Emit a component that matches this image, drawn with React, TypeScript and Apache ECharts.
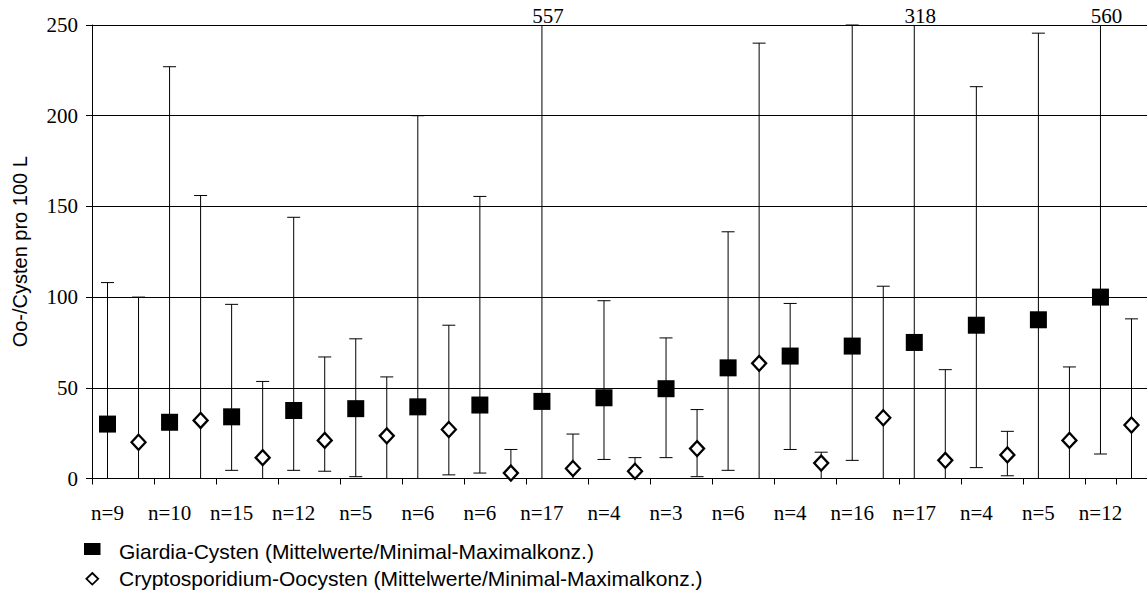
import React, { useEffect, useRef } from "react";
import * as echarts from "echarts";

const groups = ["n=9", "n=10", "n=15", "n=12", "n=5", "n=6", "n=6", "n=17", "n=4", "n=3", "n=6", "n=4", "n=16", "n=17", "n=4", "n=5", "n=12"];

const giardiaMean = [30, 31, 34, 37.5, 38.5, 39.5, 40.5, 42.5, 44.5, 49.5, 61, 67.5, 73, 75, 84.5, 87.5, 100];
const giardiaMin = [0, 0, 4.5, 4.5, 1, 0, 3, 0, 10.5, 11.5, 4.5, 16, 10, 0, 6, 0, 13.5];
const giardiaMax = [108, 227, 96, 144, 77, 200, 155.5, 557, 98, 77.5, 136, 96.5, 250, 318, 216, 245.5, 560];

const cryptoMean = [20, 32, 11.5, 21, 23.5, 27, 3, 5.5, 4, 16.5, 63.5, 8.5, 33.5, 10, 13, 21, 29.5];
const cryptoMin = [0, 0, 0, 4, 0, 2, 0, 0, 0, 1, 0, 0, 0, 0, 1.5, 0, 0];
const cryptoMax = [100, 156, 53.5, 67, 56, 84.5, 16, 24.5, 11.5, 38, 240, 14.5, 106, 60, 26, 61.5, 88];

const yTicks = { min: 0, max: 250, interval: 50 };
const yTitle = "Oo-/Cysten pro 100 L";
const legendLabels = [
  "Giardia-Cysten (Mittelwerte/Minimal-Maximalkonz.)",
  "Cryptosporidium-Oocysten (Mittelwerte/Minimal-Maximalkonz.)",
];

const SERIF = '"Liberation Serif", "Times New Roman", serif';
const SANS = '"Liberation Sans", Arial, sans-serif';
const CAP = 6.5;

export default function App() {
  const ref = useRef<HTMLDivElement>(null);
  useEffect(() => {
    if (!ref.current) return;
    const chart = echarts.init(ref.current, undefined, { renderer: "svg" });

    const slots: string[] = groups.flatMap((g) => [g, ""]);
    const gBars = groups.map((_, i) => [2 * i, giardiaMin[i], giardiaMax[i]]);
    const cBars = groups.map((_, i) => [2 * i + 1, cryptoMin[i], cryptoMax[i]]);
    const gPts = groups.map((_, i) => [2 * i, giardiaMean[i]]);
    const cPts = groups.map((_, i) => [2 * i + 1, cryptoMean[i]]);

    const renderBar = (params: any, api: any) => {
      const idx = api.value(0);
      const lo = api.value(1);
      const hi = api.value(2);
      const shownHi = Math.min(hi, yTicks.max);
      const top = api.coord([idx, shownHi]);
      const bot = api.coord([idx, lo]);
      const x = top[0];
      const style = { stroke: "#000", lineWidth: 1 };
      const children: any[] = [
        { type: "line", shape: { x1: x, y1: top[1], x2: x, y2: bot[1] }, style },
        { type: "line", shape: { x1: x - CAP, y1: bot[1], x2: x + CAP, y2: bot[1] }, style },
      ];
      if (hi <= yTicks.max) {
        children.push({ type: "line", shape: { x1: x - CAP, y1: top[1], x2: x + CAP, y2: top[1] }, style });
      } else {
        children.push({
          type: "text",
          x: x + 6,
          y: top[1] - 9,
          style: { text: String(hi), fill: "#000", font: `21px ${SERIF}`, align: "center", verticalAlign: "middle" },
        });
      }
      return { type: "group", children };
    };

    const option: any = {
      animation: false,
      backgroundColor: "#fff",
      grid: { left: 92, top: 25, width: 1057, height: 453.5, containLabel: false },
      xAxis: {
        type: "category",
        data: slots,
        boundaryGap: true,
        axisLine: { show: true, lineStyle: { color: "#000", width: 1 } },
        axisTick: { show: true, interval: 1, length: 6, lineStyle: { color: "#000", width: 1 } },
        axisLabel: {
          interval: 0,
          margin: 24,
          color: "#000",
          fontFamily: SERIF,
          fontSize: 21,
          formatter: (v: string, i: number) => (i % 2 === 0 ? v : ""),
        },
        splitLine: { show: false },
      },
      yAxis: {
        type: "value",
        min: yTicks.min,
        max: yTicks.max,
        interval: yTicks.interval,
        name: yTitle,
        nameLocation: "middle",
        nameRotate: 90,
        nameGap: 62,
        nameTextStyle: { color: "#000", fontFamily: SANS, fontSize: 20 },
        axisLine: { show: true, lineStyle: { color: "#000", width: 1 } },
        axisTick: { show: true, length: 6, lineStyle: { color: "#000", width: 1 } },
        axisLabel: { color: "#000", fontFamily: SERIF, fontSize: 21, margin: 14 },
        splitLine: { show: true, lineStyle: { color: "#000", width: 1 } },
      },
      series: [
        { name: "Giardia range", type: "custom", data: gBars, renderItem: renderBar, clip: false, z: 2 },
        { name: "Crypto range", type: "custom", data: cBars, renderItem: renderBar, clip: false, z: 2 },
        {
          name: legendLabels[0],
          type: "scatter",
          data: gPts,
          symbol: "rect",
          symbolSize: 17,
          itemStyle: { color: "#000", opacity: 1 },
          z: 3,
        },
        {
          name: legendLabels[1],
          type: "scatter",
          data: cPts,
          symbol: "diamond",
          symbolSize: [14, 15],
          itemStyle: { color: "#fff", borderColor: "#000", borderWidth: 2.3, opacity: 1 },
          z: 3,
        },
      ],
      graphic: [
        { type: "rect", shape: { x: 84, y: 543, width: 16.5, height: 12 }, style: { fill: "#000" } },
        {
          type: "polygon",
          shape: { points: [[92.3, 573], [98.2, 578.8], [92.3, 584.6], [86.4, 578.8]] },
          style: { fill: "#fff", stroke: "#000", lineWidth: 1.8 },
        },
        {
          type: "text",
          x: 119,
          y: 551.6,
          style: { text: legendLabels[0], fill: "#000", font: `21px ${SANS}`, verticalAlign: "middle" },
        },
        {
          type: "text",
          x: 119,
          y: 578.3,
          style: { text: legendLabels[1], fill: "#000", font: `21px ${SANS}`, verticalAlign: "middle" },
        },
      ],
    };
    chart.setOption(option);
    return () => chart.dispose();
  }, []);

  return (
    <div
      ref={ref}
      style={{ position: "absolute", left: 0, top: 0, width: 1147, height: 596, overflow: "hidden", background: "#fff" }}
    />
  );
}
